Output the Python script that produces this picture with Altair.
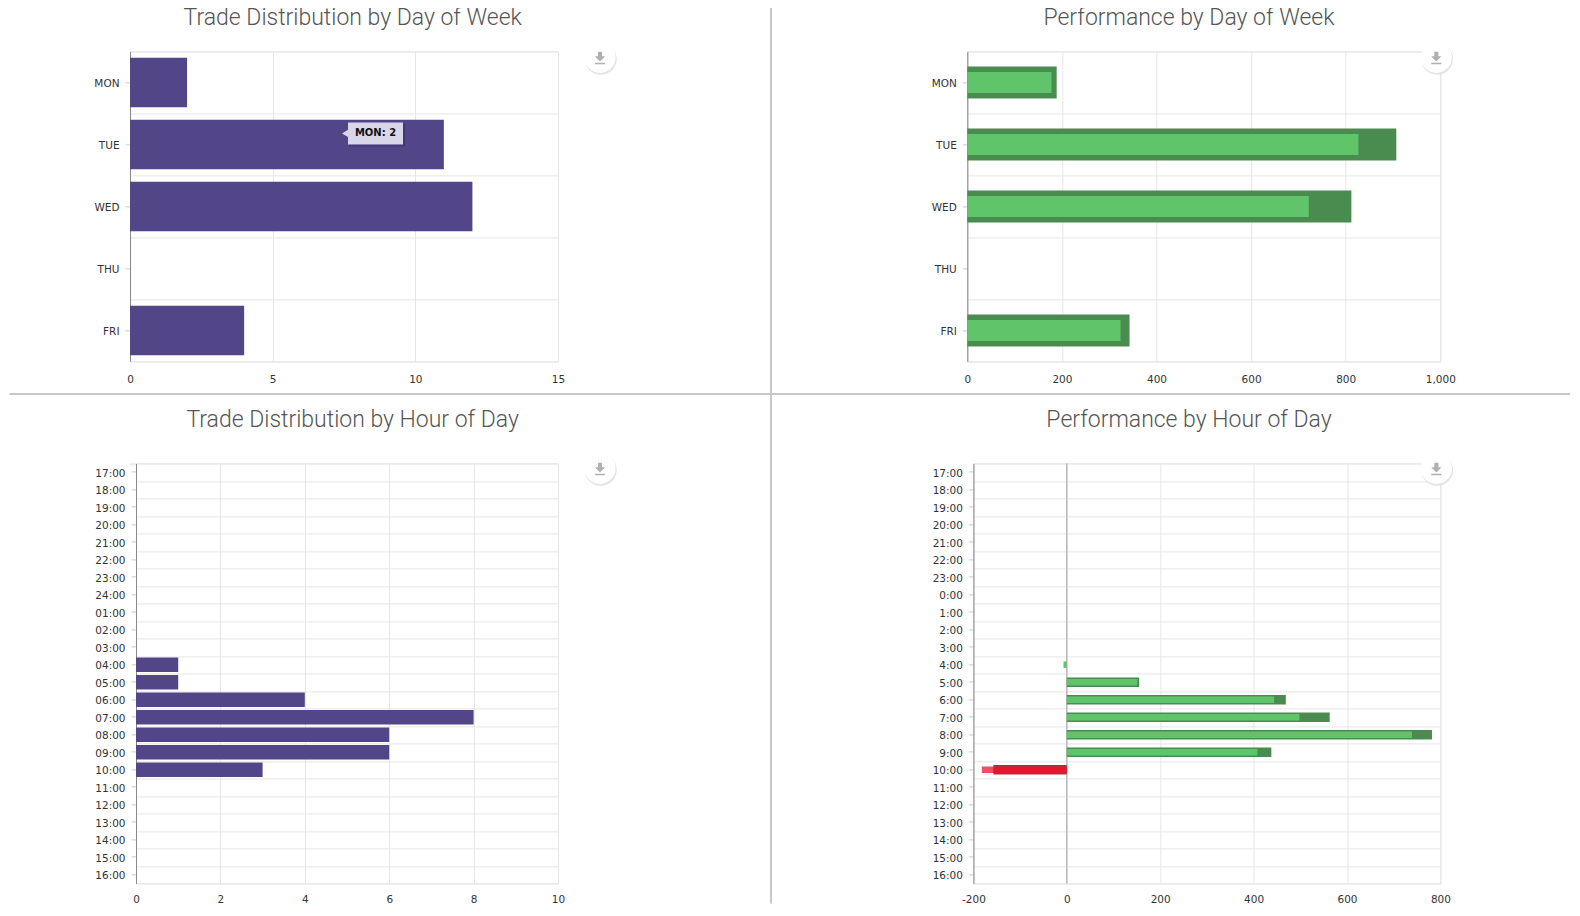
import altair as alt
import pandas as pd

DAYS = ["MON", "TUE", "WED", "THU", "FRI"]
DAY_COUNTS = [2, 11, 12, 0, 4]
DAY_GROSS = [189, 907, 812, 0, 343]
DAY_NET = [178, 827, 722, 0, 324]

HOURS_A = ["17:00", "18:00", "19:00", "20:00", "21:00", "22:00", "23:00", "24:00",
           "01:00", "02:00", "03:00", "04:00", "05:00", "06:00", "07:00", "08:00",
           "09:00", "10:00", "11:00", "12:00", "13:00", "14:00", "15:00", "16:00"]
HOUR_COUNTS = [0, 0, 0, 0, 0, 0, 0, 0, 0, 0, 0, 1, 1, 4, 8, 6, 6, 3, 0, 0, 0, 0, 0, 0]

HOURS_B = ["17:00", "18:00", "19:00", "20:00", "21:00", "22:00", "23:00", "0:00",
           "1:00", "2:00", "3:00", "4:00", "5:00", "6:00", "7:00", "8:00",
           "9:00", "10:00", "11:00", "12:00", "13:00", "14:00", "15:00", "16:00"]
HOUR_GROSS = [0, 0, 0, 0, 0, 0, 0, 0, 0, 0, 0, 0, 155, 469, 563, 782, 438, -157, 0, 0, 0, 0, 0, 0]
HOUR_NET = [0, 0, 0, 0, 0, 0, 0, 0, 0, 0, 0, -7, 151, 444, 498, 739, 408, -182, 0, 0, 0, 0, 0, 0]

PURPLE = "#524689"
DARK_GREEN = "#4a8c50"
LIGHT_GREEN = "#5fc46a"
DARK_RED = "#a8323f"
RED = "#e2182d"
LIGHT_RED = "#ee5062"
GRID = "#e6e6e6"
FONT = "DejaVu Sans"
ONE = alt.Data(values=[{"k": 0}])
ICON = "M-0.35,-1 L0.35,-1 L0.35,-0.2 L0.9,-0.2 L0,0.7 L-0.9,-0.2 L-0.35,-0.2 Z M-0.9,0.95 L0.9,0.95 L0.9,1.2 L-0.9,1.2 Z"


def y_axes(field, order):
    grid_axis = alt.Axis(orient="left", labels=False, ticks=False, domain=False, title=None, grid=True,
                         gridColor=GRID, tickBand="extent")
    label_axis = alt.Axis(orient="left", grid=False, title=None, domain=True, domainColor="#888888",
                          ticks=True, tickColor="#cccccc", tickSize=5, labelPadding=6, labelOffset=1.5,
                          labelFont=FONT, labelFontSize=10.5, labelColor="#333333")
    scale = alt.Scale(domain=order, padding=0)
    return (alt.Y(f"{field}:N", sort=order, scale=scale, axis=grid_axis),
            alt.Y(f"{field}:N", sort=order, scale=scale, axis=label_axis),
            alt.Y(f"{field}:N", sort=order, scale=scale, axis=None))


def x_enc(field, domain, ticks, pad=13):
    return alt.X(f"{field}:Q", scale=alt.Scale(domain=domain, nice=False), title=None,
                 axis=alt.Axis(values=ticks, labelExpr="replace(format(datum.value, ',d'), '\u2212', '-')",
                               grid=True, gridColor=GRID, domain=False,
                               ticks=False, labelPadding=pad, labelFont=FONT, labelFontSize=10.5,
                               labelColor="#333333", labelFlush=False))


def button(px, py):
    shadow = alt.Chart(ONE).mark_point(filled=True, size=1010, color="#e2e2e2", opacity=0.9).encode(
        x=alt.value(px + 0.8), y=alt.value(py + 1.5))
    disc = alt.Chart(ONE).mark_point(filled=True, size=960, color="#ffffff", opacity=1).encode(
        x=alt.value(px), y=alt.value(py))
    icon = alt.Chart(ONE).mark_point(filled=True, shape=ICON, size=130, color="#b0b0b0", opacity=1).encode(
        x=alt.value(px), y=alt.value(py))
    return [shadow, disc, icon]


def rule(x1, x2, y1, y2):
    return alt.Chart(ONE).mark_rule(color="#c8c8c8", strokeWidth=2, clip=False).encode(
        x=alt.value(x1), x2=alt.value(x2), y=alt.value(y1), y2=alt.value(y2))


def title(text, px, py, baseline="middle"):
    return alt.Chart(ONE).mark_text(text=text, font="Roboto", fontSize=23, fontWeight=300, color="#555555",
                                    baseline=baseline, align="center").encode(
        x=alt.value(px), y=alt.value(py))


def panel(layers, w, h):
    return alt.layer(*layers).resolve_axis(y="independent").properties(width=w, height=h)


# ---- top left
df = pd.DataFrame({"d": DAYS, "v": DAY_COUNTS})
gy, ly, ny = y_axes("d", DAYS)
xe = x_enc("v", [0, 15], [0, 5, 10, 15])
base = alt.Chart(df)
tl_layers = [
    base.mark_bar(size=1, opacity=0).encode(x=xe, y=gy),
    base.mark_bar(size=49.5, color=PURPLE).encode(x=alt.X("v:Q"), y=ly),
    alt.Chart(ONE).mark_rect(fill="#3f3678", opacity=0.9).encode(
        x=alt.value(219), x2=alt.value(275), y=alt.value(72), y2=alt.value(95)),
    alt.Chart(ONE).mark_rect(fill="#d9d6ea").encode(
        x=alt.value(218), x2=alt.value(273), y=alt.value(71), y2=alt.value(93)),
    alt.Chart(ONE).mark_point(filled=True, shape="triangle-left", size=50, color="#d9d6ea", opacity=1).encode(
        x=alt.value(215), y=alt.value(82)),
    alt.Chart(ONE).mark_text(text="MON: 2", font=FONT, fontSize=10, fontWeight="bold", color="#111111").encode(
        x=alt.value(245.5), y=alt.value(82)),
    *button(470, 6),
    title("Trade Distribution by Day of Week", 222.7, -44.4, "top"),
    rule(-120.5, 1440, 342.5, 342.5),
    rule(641, 641, -44, 342.5),
]
tl = panel(tl_layers, 428, 310)

# ---- top right
df = pd.DataFrame({"d": DAYS, "g": DAY_GROSS, "n": DAY_NET})
gy, ly, ny = y_axes("d", DAYS)
xe = x_enc("g", [0, 1000], [0, 200, 400, 600, 800, 1000])
base = alt.Chart(df)
tr_layers = [
    base.mark_bar(size=1, opacity=0).encode(x=xe, y=gy),
    base.mark_bar(size=32, color=DARK_GREEN).encode(x=alt.X("g:Q"), y=ly),
    base.mark_bar(size=21, color=LIGHT_GREEN).encode(x=alt.X("n:Q"), y=ny),
    *button(469, 6),
    title("Performance by Day of Week", 221.7, -44.4, "top"),
]
tr = panel(tr_layers, 473, 310)

# ---- bottom left
df = pd.DataFrame({"h": HOURS_A, "v": HOUR_COUNTS})
gy, ly, ny = y_axes("h", HOURS_A)
xe = x_enc("v", [0, 10], [0, 2, 4, 6, 8, 10], pad=11)
base = alt.Chart(df)
bl_layers = [
    base.mark_bar(size=1, opacity=0).encode(x=xe, y=gy),
    base.mark_bar(size=14.5, color=PURPLE).encode(x=alt.X("v:Q"), y=ly),
    *button(464, 5),
    title("Trade Distribution by Hour of Day", 216.7, -43.5),
    rule(635, 635, -68.5, 440),
]
bl = panel(bl_layers, 422, 420)

# ---- bottom right
df = pd.DataFrame({"h": HOURS_B, "g": HOUR_GROSS, "n": HOUR_NET})
df_pos = df[df["g"] >= 0]
df_neg = df[df["g"] < 0]
gy, ly, ny = y_axes("h", HOURS_B)
xe = x_enc("g", [-200, 800], [-200, 0, 200, 400, 600, 800], pad=11)
base = alt.Chart(df)
br_layers = [
    base.mark_bar(size=0.1, opacity=0).encode(x=xe, y=gy),
    alt.Chart(ONE).mark_rule(color="#b9b9b9", strokeWidth=1.5).encode(x=alt.datum(0)),
    base.mark_bar(size=0.1, opacity=0).encode(x=alt.X("g:Q"), y=ly),
    alt.Chart(df_pos).mark_bar(size=9.5, color=DARK_GREEN).encode(x=alt.X("g:Q"), y=ny),
    alt.Chart(df_pos).mark_bar(size=6.5, color=LIGHT_GREEN).encode(x=alt.X("n:Q"), y=ny),
    alt.Chart(df_neg).mark_bar(size=6.5, color=LIGHT_RED).encode(x=alt.X("n:Q"), y=ny),
    alt.Chart(df_neg).mark_bar(size=9.5, color=DARK_RED).encode(x=alt.X("g:Q"), y=ny),
    alt.Chart(df_neg).mark_bar(size=6.5, color=RED).encode(x=alt.X("g:Q"), y=ny),
    *button(463, 5),
    title("Performance by Hour of Day", 215.6, -43.5),
]
br = panel(br_layers, 467, 420)

spacer = alt.Chart(ONE).mark_point(opacity=0).encode(x=alt.value(0), y=alt.value(0)).properties(width=6, height=1)

top = alt.hconcat(tl, tr, spacing=409.3, bounds="flush")
bottom = alt.hconcat(alt.hconcat(spacer, bl, spacing=0, bounds="flush"), br, spacing=843.4, bounds="flush")

chart = (alt.vconcat(top, bottom, spacing=-2)
         .properties(padding={"top": -2.6, "left": 0, "right": 0, "bottom": 0})
         .configure_view(stroke=GRID))
chart.save("out.html", embed_options={"renderer": "svg", "actions": False})
